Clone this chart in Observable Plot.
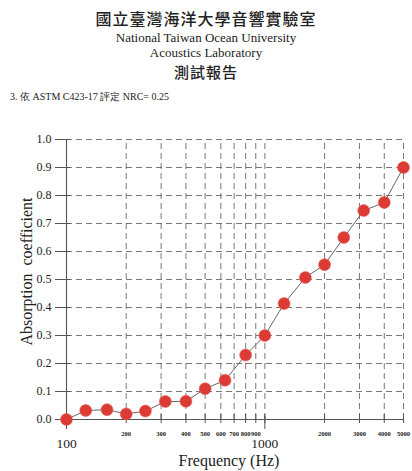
<!DOCTYPE html>
<html>
<head>
<meta charset="utf-8">
<script src="https://cdn.jsdelivr.net/npm/d3@7"></script>
<script src="https://cdn.jsdelivr.net/npm/@observablehq/plot@0.6"></script>
<style>
  html, body { margin: 0; padding: 0; background: #fff; }
  #wrap { position: relative; width: 412px; height: 471px; overflow: hidden; background: #fff; }
  #header { position: relative; width: 412px; height: 105px; }
  .h { position: absolute; left: 0; width: 412px; text-align: center; color: #222; white-space: nowrap; line-height: 1; }
  .cjk { font-family: "Noto Sans CJK TC", sans-serif; }
  .ser { font-family: "Liberation Serif", "DejaVu Serif", serif; }
  #chart svg { display: block; }
</style>
</head>
<body>
<div id="wrap">
  <div id="header">
    <div class="h cjk" id="t1" style="top:10px;font-size:16px;font-weight:500;letter-spacing:1px;"></div>
    <div class="h ser" id="t2" style="top:31px;font-size:13px;"></div>
    <div class="h ser" id="t3" style="top:46px;font-size:13px;"></div>
    <div class="h cjk" id="t4" style="top:64px;font-size:15px;font-weight:500;letter-spacing:1px;"></div>
    <div class="h ser" id="t5" style="top:92px;left:10px;text-align:left;font-size:10px;"></div>
  </div>
  <div id="chart"></div>
</div>
<script>
// ---- text ----
const titleZh = "國立臺灣海洋大學音響實驗室";
const titleEn1 = "National Taiwan Ocean University";
const titleEn2 = "Acoustics Laboratory";
const reportZh = "測試報告";
const noteText = "3. 依 ASTM C423-17 評定 NRC= 0.25";
const yLabel = "Absorption  coefficient";
const xLabel = "Frequency (Hz)";

// ---- data ----
const freqs = [100, 125, 160, 200, 250, 315, 400, 500, 630, 800, 1000, 1250, 1600, 2000, 2500, 3150, 4000, 5000];
const alpha = [0.00, 0.032, 0.035, 0.02, 0.03, 0.064, 0.065, 0.11, 0.14, 0.23, 0.30, 0.414, 0.507, 0.553, 0.65, 0.746, 0.775, 0.90];

// ---- ticks ----
const yTicks = [0, 0.1, 0.2, 0.3, 0.4, 0.5, 0.6, 0.7, 0.8, 0.9, 1.0];
const gridFreqs = [200, 300, 400, 500, 600, 700, 800, 900, 1000, 2000, 3000, 4000, 5000];
const minorTickFreqs = [200, 300, 400, 500, 600, 700, 800, 900, 2000, 3000, 4000, 5000];
const minorTickLabels = ["200", "300", "400", "500", "600", "700", "800", "900", "2000", "3000", "4000", "5000"];
const majorTickFreqs = [100, 1000];
const majorTickLabels = ["100", "1000"];

document.getElementById("t1").textContent = titleZh;
document.getElementById("t2").textContent = titleEn1;
document.getElementById("t3").textContent = titleEn2;
document.getElementById("t4").textContent = reportZh;
document.getElementById("t5").textContent = noteText;

const data = freqs.map((f, i) => ({f, a: alpha[i]}));
const minorData = minorTickFreqs.map((f, i) => ({f, label: minorTickLabels[i]}));
const majorData = majorTickFreqs.map((f, i) => ({f, label: majorTickLabels[i]}));

const dash = {stroke: "#555", strokeDasharray: "6,4", strokeWidth: 0.8};

const chart = Plot.plot({
  width: 412,
  height: 366,
  marginLeft: 66,
  marginRight: 9,
  marginTop: 34,
  marginBottom: 52,
  x: {type: "log", domain: [100, 5000], axis: null},
  y: {type: "linear", domain: [0, 1]},
  style: {fontFamily: "'Liberation Serif', 'DejaVu Serif', serif", background: "white", color: "#222"},
  marks: [
    Plot.ruleY(yTicks.slice(1), {x1: 100, x2: 5000, ...dash}),
    Plot.ruleX(gridFreqs, {y1: 0, y2: 1, ...dash}),
    Plot.ruleX([100], {y1: 0, y2: 1, stroke: "#555", strokeWidth: 1.1}),
    Plot.ruleY([0], {x1: 100, x2: 5000, stroke: "#555", strokeWidth: 1.1, insetLeft: -6}),
    Plot.ruleY(yTicks, {x1: 100, x2: 100, insetLeft: -11, insetRight: -4, stroke: "#555"}),
    Plot.axisY(yTicks, {tickSize: 0, tickPadding: 15, fontSize: 12, tickFormat: d3.format(".1f"), label: null}),
    Plot.ruleX(gridFreqs, {y1: 0, y2: 0, insetTop: -5, insetBottom: -4, stroke: "#555"}),
    Plot.ruleX(majorTickFreqs, {y1: 0, y2: 0, insetTop: -3, insetBottom: -10, stroke: "#555"}),
    Plot.text(minorData, {x: "f", y: 0, dy: 14, text: "label", fontSize: 6.5, fontWeight: "bold"}),
    Plot.text(majorData, {x: "f", y: 0, dy: 24, text: "label", fontSize: 13.5}),
    Plot.line(data, {x: "f", y: "a", stroke: "#666", strokeWidth: 1}),
    Plot.dot(data, {x: "f", y: "a", r: 6, fill: "#dc3a34", stroke: "#e8665c", strokeWidth: 0.6}),
    Plot.text([yLabel], {frameAnchor: "left", textAnchor: "middle", dx: -40, dy: -8, rotate: -90, fontSize: 16}),
    Plot.text([xLabel], {frameAnchor: "bottom", dx: -6, dy: 46, fontSize: 16})
  ]
});
document.getElementById("chart").appendChild(chart);
</script>
</body>
</html>
